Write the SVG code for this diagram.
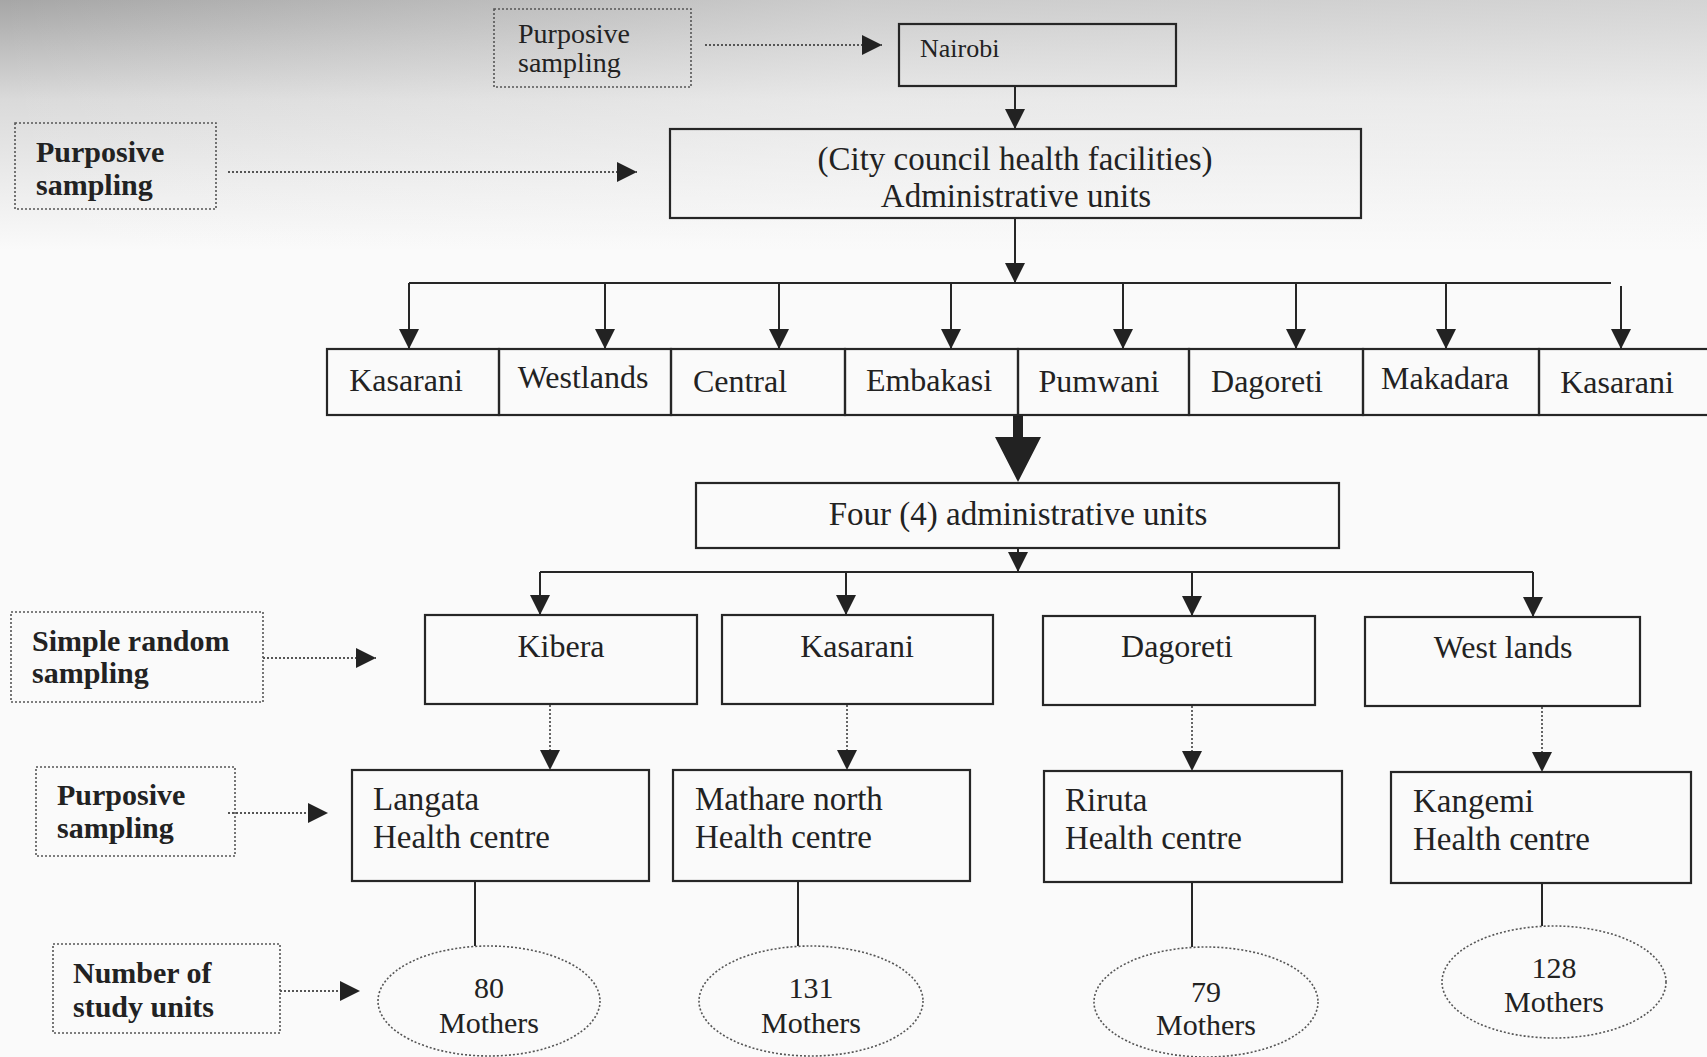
<svg xmlns="http://www.w3.org/2000/svg" width="1707" height="1057" viewBox="0 0 1707 1057">
<style>
.box{fill:none;stroke:#262626;stroke-width:2.2}
.lbl{fill:none;stroke:#555;stroke-width:1.6;stroke-dasharray:2 2}
.ell{fill:none;stroke:#555;stroke-width:1.6;stroke-dasharray:2 2}
.ln{fill:none;stroke:#262626;stroke-width:2}
.dl{fill:none;stroke:#555;stroke-width:1.8;stroke-dasharray:2 2}
text{font-family:"Liberation Serif","Times New Roman",serif;fill:#222}
.t32{font-size:32px}
.t33{font-size:33px}
.b{font-size:30px;font-weight:bold}
.hc{font-size:33px}
.m{font-size:30px}
</style>
<defs>
<marker id="ah" markerWidth="20" markerHeight="20" refX="20" refY="10" orient="auto" markerUnits="userSpaceOnUse"><path d="M0,0 L20,10 L0,20 Z" fill="#222"/></marker>
<linearGradient id="bgv" x1="0" y1="0" x2="0" y2="1"><stop offset="0" stop-color="#a6a6a6"/><stop offset="0.4" stop-color="#dadada"/><stop offset="1" stop-color="#fafafa"/></linearGradient>
<linearGradient id="bgh" x1="0" y1="0" x2="1" y2="0"><stop offset="0" stop-color="#fafafa" stop-opacity="0"/><stop offset="0.5" stop-color="#fafafa" stop-opacity="0.45"/><stop offset="1" stop-color="#fafafa" stop-opacity="0.55"/></linearGradient>
</defs>
<rect x="0" y="0" width="1707" height="1057" fill="#fafafa"/>
<rect x="0" y="0" width="1707" height="250" fill="url(#bgv)"/>
<rect x="0" y="0" width="1707" height="250" fill="url(#bgh)"/>

<g id="connectors">
<path class="dl" d="M705,45 L882,45" marker-end="url(#ah)"/>
<path class="dl" d="M228,172 L637,172" marker-end="url(#ah)"/>
<path class="ln" d="M1015,86 L1015,129" marker-end="url(#ah)"/>
<path class="ln" d="M1015,218 L1015,283" marker-end="url(#ah)"/>
<path class="ln" d="M409,283 L1611,283"/>
<path class="ln" d="M409,283 L409,349" marker-end="url(#ah)"/>
<path class="ln" d="M605,283 L605,349" marker-end="url(#ah)"/>
<path class="ln" d="M779,283 L779,349" marker-end="url(#ah)"/>
<path class="ln" d="M951,283 L951,349" marker-end="url(#ah)"/>
<path class="ln" d="M1123,283 L1123,349" marker-end="url(#ah)"/>
<path class="ln" d="M1296,283 L1296,349" marker-end="url(#ah)"/>
<path class="ln" d="M1446,283 L1446,349" marker-end="url(#ah)"/>
<path class="ln" d="M1621,286 L1621,349" marker-end="url(#ah)"/>
<path d="M1013,415 L1023,415 L1023,437 L1041,437 L1018,482 L995,437 L1013,437 Z" fill="#222"/>
<path class="ln" d="M1018,548 L1018,572" marker-end="url(#ah)"/>
<path class="ln" d="M540,572 L1533,572"/>
<path class="ln" d="M540,572 L540,615" marker-end="url(#ah)"/>
<path class="ln" d="M846,572 L846,615" marker-end="url(#ah)"/>
<path class="ln" d="M1192,572 L1192,616" marker-end="url(#ah)"/>
<path class="ln" d="M1533,572 L1533,617" marker-end="url(#ah)"/>
<path class="dl" d="M263,658 L376,658" marker-end="url(#ah)"/>
<path class="dl" d="M550,705 L550,770" marker-end="url(#ah)"/>
<path class="dl" d="M847,705 L847,770" marker-end="url(#ah)"/>
<path class="dl" d="M1192,706 L1192,771" marker-end="url(#ah)"/>
<path class="dl" d="M1542,707 L1542,772" marker-end="url(#ah)"/>
<path class="dl" d="M228,813 L328,813" marker-end="url(#ah)"/>
<path class="ln" d="M475,881 L475,946"/>
<path class="ln" d="M798,881 L798,946"/>
<path class="ln" d="M1192,882 L1192,947"/>
<path class="ln" d="M1542,883 L1542,926"/>
<path class="dl" d="M280,991 L360,991" marker-end="url(#ah)"/>
</g>

<g id="lbl-purposive-top">
<rect class="lbl" x="494" y="9" width="197" height="78"/>
<text x="518" y="43" style="font-size:28px">Purposive</text>
<text x="518" y="72" style="font-size:28px">sampling</text>
</g>
<g id="lbl-purposive-left">
<rect class="lbl" x="15" y="123" width="201" height="86"/>
<text class="b" x="36" y="162">Purposive</text>
<text class="b" x="36" y="195">sampling</text>
</g>
<g id="nairobi">
<rect class="box" x="899" y="24" width="277" height="62"/>
<text x="920" y="57" style="font-size:26px">Nairobi</text>
</g>
<g id="city-council">
<rect class="box" x="670" y="129" width="691" height="89"/>
<text class="t33" x="1015" y="170" text-anchor="middle">(City council health facilities)</text>
<text class="t33" x="1016" y="207" text-anchor="middle">Administrative units</text>
</g>

<g id="unit-kasarani-1"><rect class="box" x="327" y="349" width="172" height="66"/><text class="t32" x="406" y="391" text-anchor="middle">Kasarani</text></g>
<g id="unit-westlands"><rect class="box" x="499" y="349" width="172" height="66"/><text class="t32" x="583" y="388" text-anchor="middle">Westlands</text></g>
<g id="unit-central"><rect class="box" x="671" y="349" width="174" height="66"/><text class="t32" x="740" y="392" text-anchor="middle">Central</text></g>
<g id="unit-embakasi"><rect class="box" x="845" y="349" width="173" height="66"/><text class="t32" x="929" y="391" text-anchor="middle">Embakasi</text></g>
<g id="unit-pumwani"><rect class="box" x="1018" y="349" width="171" height="66"/><text class="t32" x="1099" y="392" text-anchor="middle">Pumwani</text></g>
<g id="unit-dagoreti-1"><rect class="box" x="1189" y="349" width="174" height="66"/><text class="t32" x="1267" y="392" text-anchor="middle">Dagoreti</text></g>
<g id="unit-makadara"><rect class="box" x="1363" y="349" width="176" height="66"/><text class="t32" x="1445" y="389" text-anchor="middle">Makadara</text></g>
<g id="unit-kasarani-2"><rect class="box" x="1539" y="349" width="175" height="66"/><text class="t32" x="1617" y="393" text-anchor="middle">Kasarani</text></g>

<g id="four-units">
<rect class="box" x="696" y="483" width="643" height="65"/>
<text class="t33" x="1018" y="525" text-anchor="middle">Four (4) administrative units</text>
</g>

<g id="lbl-simple-random">
<rect class="lbl" x="11" y="612" width="252" height="90"/>
<text class="b" x="32" y="651">Simple random</text>
<text class="b" x="32" y="683">sampling</text>
</g>
<g id="kibera"><rect class="box" x="425" y="615" width="272" height="89"/><text class="t32" x="561" y="657" text-anchor="middle">Kibera</text></g>
<g id="kasarani-2"><rect class="box" x="722" y="615" width="271" height="89"/><text class="t32" x="857" y="657" text-anchor="middle">Kasarani</text></g>
<g id="dagoreti-2"><rect class="box" x="1043" y="616" width="272" height="89"/><text class="t32" x="1177" y="657" text-anchor="middle">Dagoreti</text></g>
<g id="westlands-2"><rect class="box" x="1365" y="617" width="275" height="89"/><text class="t32" x="1503" y="658" text-anchor="middle">West lands</text></g>

<g id="lbl-purposive-3">
<rect class="lbl" x="36" y="767" width="199" height="89"/>
<text class="b" x="57" y="805">Purposive</text>
<text class="b" x="57" y="838">sampling</text>
</g>
<g id="langata"><rect class="box" x="352" y="770" width="297" height="111"/><text class="hc" x="373" y="810">Langata</text><text class="hc" x="373" y="848">Health centre</text></g>
<g id="mathare"><rect class="box" x="673" y="770" width="297" height="111"/><text class="hc" x="695" y="810">Mathare north</text><text class="hc" x="695" y="848">Health centre</text></g>
<g id="riruta"><rect class="box" x="1044" y="771" width="298" height="111"/><text class="hc" x="1065" y="811">Riruta</text><text class="hc" x="1065" y="849">Health centre</text></g>
<g id="kangemi"><rect class="box" x="1391" y="772" width="300" height="111"/><text class="hc" x="1413" y="812">Kangemi</text><text class="hc" x="1413" y="850">Health centre</text></g>

<g id="lbl-study-units">
<rect class="lbl" x="53" y="944" width="227" height="89"/>
<text class="b" x="73" y="983">Number of</text>
<text class="b" x="73" y="1017">study units</text>
</g>
<g id="n80"><ellipse class="ell" cx="489" cy="1001" rx="111" ry="55"/><text class="m" x="489" y="998" text-anchor="middle">80</text><text class="m" x="489" y="1033" text-anchor="middle">Mothers</text></g>
<g id="n131"><ellipse class="ell" cx="811" cy="1001" rx="112" ry="55"/><text class="m" x="811" y="998" text-anchor="middle">131</text><text class="m" x="811" y="1033" text-anchor="middle">Mothers</text></g>
<g id="n79"><ellipse class="ell" cx="1206" cy="1002" rx="112" ry="55"/><text class="m" x="1206" y="1002" text-anchor="middle">79</text><text class="m" x="1206" y="1035" text-anchor="middle">Mothers</text></g>
<g id="n128"><ellipse class="ell" cx="1554" cy="982" rx="112" ry="56"/><text class="m" x="1554" y="978" text-anchor="middle">128</text><text class="m" x="1554" y="1012" text-anchor="middle">Mothers</text></g>
</svg>
